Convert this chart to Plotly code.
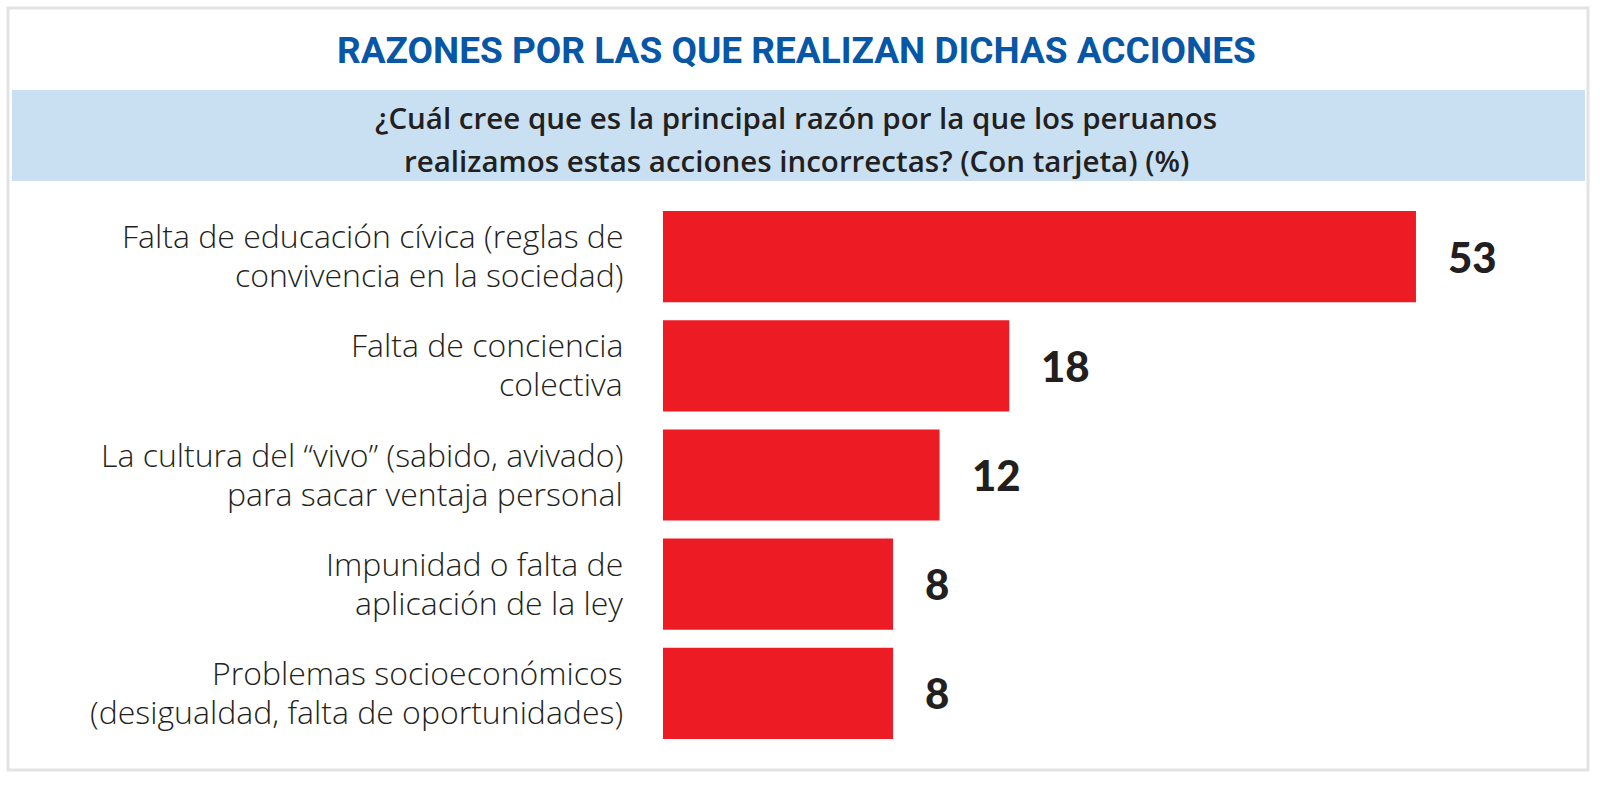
import plotly.graph_objects as go

# ---- data ----
categories = [
    "Falta de educación cívica (reglas de<br>convivencia en la sociedad)",
    "Falta de conciencia<br>colectiva",
    "La cultura del “vivo” (sabido, avivado)<br>para sacar ventaja personal",
    "Impunidad o falta de<br>aplicación de la ley",
    "Problemas socioeconómicos<br>(desigualdad, falta de oportunidades)",
]
values = [53, 18, 12, 8, 8]
value_labels = ["53", "18", "12", "8", "8"]
title_text = "RAZONES POR LAS QUE REALIZAN DICHAS ACCIONES"
subtitle_lines = [
    "¿Cuál cree que es la principal razón por la que los peruanos",
    "realizamos estas acciones incorrectas? (Con tarjeta) (%)",
]

# ---- layout geometry (pixels) ----
W, H = 1600, 785
L, R, T, B = 663, 60, 202, 37
PW, PH = W - L - R, H - T - B
AXIS_START = -11.8          # bars start left of zero in the original design
AXIS_END = AXIS_START + PW / 11.62


def px_x(p):
    return (p - L) / PW


def px_y(p):
    return 1 - (p - T) / PH


fig = go.Figure()
fig.add_trace(go.Bar(
    y=categories,
    x=[v - AXIS_START for v in values],
    base=AXIS_START,
    orientation="h",
    marker=dict(color="#ed1c24", line=dict(width=0)),
    hoverinfo="skip",
))

shapes = [
    # outer frame
    dict(type="rect", xref="paper", yref="paper",
         x0=px_x(8), x1=px_x(1588), y0=px_y(8), y1=px_y(770),
         line=dict(color="#e3e3e3", width=3), fillcolor="rgba(0,0,0,0)", layer="below"),
    # light-blue band
    dict(type="rect", xref="paper", yref="paper",
         x0=px_x(12), x1=px_x(1585), y0=px_y(90), y1=px_y(181),
         line=dict(width=0), fillcolor="#c9e0f3", layer="below"),
]

annotations = [
    dict(text=f"<b>{title_text}</b>", xref="paper", yref="paper",
         x=px_x(796), y=px_y(50), xanchor="center", yanchor="middle", showarrow=False,
         font=dict(family="Roboto", size=37, color="#0757a6")),
]
for i, line in enumerate(subtitle_lines):
    annotations.append(dict(
        text=line, xref="paper", yref="paper",
        x=px_x(796), y=px_y(117 + 43 * i), xanchor="center", yanchor="middle", showarrow=False,
        font=dict(family="Open Sans", size=29.5, color="#231f20", weight=600)))

for cat, v, lab in zip(categories, values, value_labels):
    lines = cat.split("<br>")
    for j, ln in enumerate(lines):
        annotations.append(dict(
            text=ln, xref="paper", yref="y", x=px_x(625), y=cat,
            yshift=21 - 39 * j, xanchor="right", yanchor="middle", showarrow=False,
            font=dict(family="Open Sans", size=32, color="#231f20", weight=300)))
    annotations.append(dict(
        text=lab, xref="x", yref="y", x=v, y=cat, xshift=30,
        xanchor="left", yanchor="middle", showarrow=False,
        font=dict(family="Lato", size=42, color="#231f20", weight=900)))

fig.update_layout(
    width=W, height=H,
    margin=dict(l=L, r=R, t=T, b=B, pad=0),
    paper_bgcolor="white", plot_bgcolor="white",
    showlegend=False,
    bargap=0.165,
    xaxis=dict(range=[AXIS_START, AXIS_END], visible=False, fixedrange=True),
    yaxis=dict(categoryorder="array", categoryarray=categories, autorange="reversed",
               showticklabels=False, showgrid=False, zeroline=False, fixedrange=True),
    shapes=shapes,
    annotations=annotations,
)

fig.write_html("out.html", config={"displayModeBar": False},
               post_script="document.body.style.margin='0';document.body.style.overflow='hidden';")
